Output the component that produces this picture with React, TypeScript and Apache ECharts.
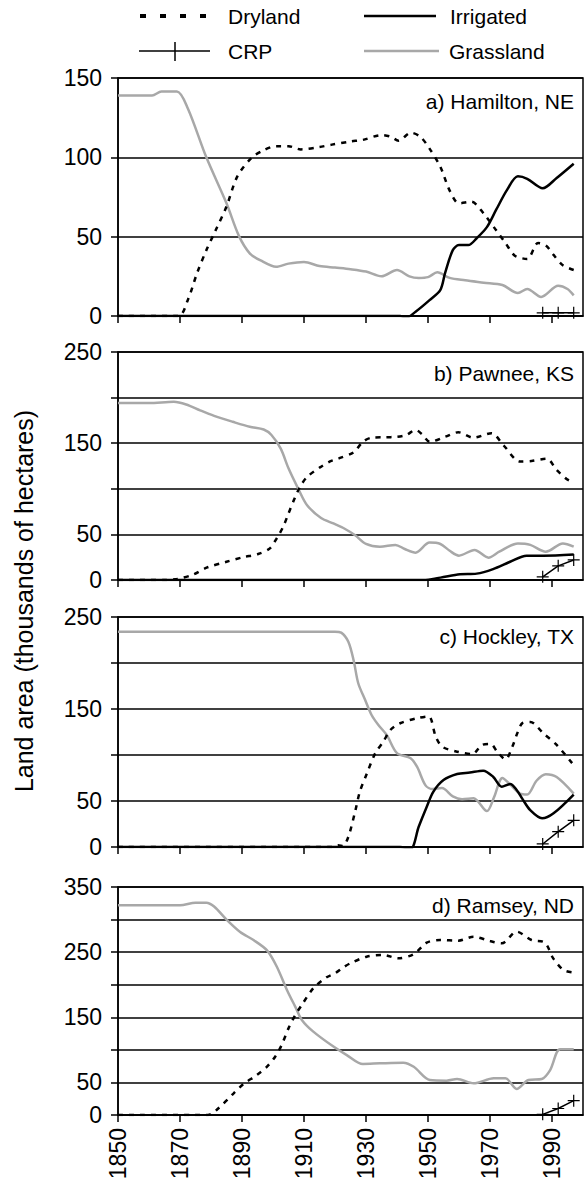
import React, { useEffect, useRef } from "react";
import * as echarts from "echarts";

// ---------- DATA ----------
const BASE_YEAR = 1850;
const xTickYears = [1850, 1870, 1890, 1910, 1930, 1950, 1970, 1990];
const legendNames = ["Dryland", "Irrigated", "CRP", "Grassland"];
const yAxisTitle = "Land area (thousands of hectares)";
const panelTitles = ["a) Hamilton, NE", "b) Pawnee, KS", "c) Hockley, TX", "d) Ramsey, ND"];
const panelMax = [150, 250, 250, 350];
const yLabelsA = [0, 50, 100, 150];
const yLabelsB = [0, 50, 150, 250];
const yLabelsC = [0, 50, 150, 250];
const yLabelsD = [0, 50, 150, 250, 350];

// a) Hamilton, NE
const hamiltonGrassland: [number, number][] = [
  [1850, 139], [1861, 139], [1864, 141.5], [1869, 141.5], [1872.5, 131], [1878.5, 100], [1885, 71],
  [1889, 50.5], [1892.5, 39.5], [1896, 35], [1901, 31], [1905, 33], [1910, 34], [1915, 31.5],
  [1920, 30.5], [1925, 29.5], [1930, 28], [1935, 25], [1940, 29], [1944, 25], [1947, 24], [1950, 24.5],
  [1953, 27.5], [1957, 24], [1962, 22.5], [1968, 21], [1974, 19.5], [1979, 14.5], [1982, 17],
  [1986.5, 12], [1992, 19], [1995, 17], [1997, 13],
];
const hamiltonDryland: [number, number][] = [
  [1850, 0], [1869.5, 0], [1872.5, 10], [1875.5, 27], [1878.5, 41.5], [1881.5, 54], [1885, 69],
  [1888.5, 88], [1893, 99.5], [1897, 104.5], [1901, 107], [1905, 107], [1909, 105], [1915, 106.5],
  [1919, 108], [1925, 110], [1929, 111], [1935, 114], [1938, 113], [1940.5, 110.5], [1944.5, 115.5],
  [1947.5, 113], [1950.5, 105.5], [1954, 94], [1957, 79], [1960, 71], [1964, 72], [1968, 64.5],
  [1972, 54], [1975, 46], [1978, 38], [1982, 36], [1985.5, 46], [1988, 44.5], [1990.5, 38.5],
  [1993.5, 32], [1997, 29],
];
const hamiltonIrrigated: [number, number][] = [
  [1850, 0], [1941, 0], [1943, -1], [1946, 2.7], [1950.5, 10], [1954, 16.5], [1955.5, 27], [1958, 41.5],
  [1960, 44.7], [1963, 44.7], [1965.7, 49], [1969, 56], [1972, 67], [1975.5, 79.5], [1979, 88],
  [1982, 86.5], [1987, 80.5], [1991.5, 87], [1997, 96],
];
const hamiltonCRP: [number, number][] = [[1987, 2], [1992, 2], [1997, 2]];

// b) Pawnee, KS
const pawneeGrassland: [number, number][] = [
  [1850, 194], [1860, 194], [1868, 195.5], [1872, 192.5], [1876.5, 186], [1881, 180], [1887, 173.5],
  [1892.5, 168], [1897, 165], [1899.5, 159], [1902.5, 144], [1905, 122.5], [1908.3, 99], [1911, 82],
  [1915.5, 68], [1919.5, 62], [1922.7, 57], [1926.5, 49], [1930, 39.5], [1934.5, 36.5], [1939.5, 38.5],
  [1942.5, 34], [1946, 30], [1950.5, 41], [1954, 39.5], [1957, 32], [1960, 26.7], [1965, 33],
  [1969.5, 24.5], [1973, 31], [1979, 40], [1983, 38.5], [1988, 31], [1993.5, 40], [1997, 36.5],
];
const pawneeDryland: [number, number][] = [
  [1850, 0], [1865, 0], [1869, 1], [1874.3, 6], [1878.6, 13.5], [1885, 20], [1890.4, 25], [1895.2, 28.5],
  [1899, 34.7], [1901.2, 45.7], [1903.3, 58.5], [1905, 73], [1907, 89.6], [1908.7, 102], [1911, 113],
  [1915.4, 124], [1918.4, 130], [1921, 133], [1926, 140], [1929, 151.5], [1931.8, 156], [1936, 156.5],
  [1940, 157], [1943, 159], [1946, 164.5], [1948, 160], [1950.6, 151.5], [1955.5, 157], [1959.8, 162],
  [1964.6, 156], [1970.5, 161], [1974.3, 148], [1979.7, 130], [1983.4, 130.5], [1988.3, 133],
  [1991.5, 120.6], [1994.7, 110.7], [1997, 107],
];
const pawneeIrrigated: [number, number][] = [
  [1850, 0], [1948.5, 0], [1954, 2.6], [1960.3, 6.2], [1965.7, 7], [1971, 12], [1976.5, 20],
  [1981.8, 26.7], [1987.2, 26.7], [1997, 28],
];
const pawneeCRP: [number, number][] = [[1987, 3.5], [1992, 15.5], [1997, 22]];

// c) Hockley, TX
const hockleyGrassland: [number, number][] = [
  [1850, 234], [1920, 234], [1922, 233], [1924.3, 223], [1926, 203], [1927.5, 178], [1929.7, 160],
  [1931.8, 143.5], [1934, 132.6], [1936.7, 121.7], [1940, 102], [1944.4, 96.4], [1946.5, 87],
  [1949.2, 67], [1951.5, 63], [1954.5, 64], [1958, 55], [1961, 52], [1964.7, 53], [1969, 39],
  [1971.3, 54], [1974, 75], [1976.5, 68], [1979.7, 58], [1982, 57], [1985, 72], [1988, 79],
  [1991.5, 76], [1997, 58],
];
const hockleyDryland: [number, number][] = [
  [1850, 0], [1919, 0], [1921, 2], [1922.5, 1], [1924.3, 11], [1926.6, 40], [1928, 60], [1930.3, 80],
  [1933, 102], [1935.6, 114.5], [1937.8, 127], [1941, 134.5], [1946.5, 140], [1950.2, 142],
  [1952.5, 120], [1954.6, 109], [1959.4, 103.6], [1964.3, 101], [1967.5, 111], [1970.2, 112],
  [1972.3, 103.6], [1975, 95.3], [1977.2, 109], [1978.8, 123.6], [1980.4, 134.5], [1983, 136],
  [1987.2, 123.6], [1991.5, 111], [1997, 89],
];
const hockleyIrrigated: [number, number][] = [
  [1850, 0], [1941, 0], [1944.4, -2], [1947, 22], [1949.6, 43.8], [1951.7, 60], [1955, 72.8],
  [1959.4, 79.3], [1963.5, 81], [1967.8, 83], [1971, 76.4], [1973.8, 65.5], [1976.5, 68.5],
  [1978.6, 62], [1980.5, 52], [1983, 40], [1986.8, 31.2], [1990.5, 36.6], [1997, 57],
];
const hockleyCRP: [number, number][] = [[1987, 3.3], [1992, 16.7], [1997, 29]];

// d) Ramsey, ND
const ramseyGrassland: [number, number][] = [
  [1850, 322], [1870, 322], [1875, 326], [1878.5, 326], [1881, 320], [1885, 300], [1889.4, 281],
  [1893.7, 268.6], [1898, 253], [1901.2, 228], [1904.5, 192], [1907.2, 166], [1909.3, 146],
  [1913, 128], [1919.5, 105], [1923.8, 92], [1929, 78.3], [1934.5, 79.3], [1942, 80.3], [1945.4, 74],
  [1950.6, 53.7], [1956, 52.7], [1959.4, 55.3], [1964.7, 48.6], [1971.2, 56.3], [1975, 56.3],
  [1978.6, 40], [1982.4, 53.7], [1986.7, 55.3], [1989.4, 69], [1992.6, 100.8], [1997, 100.8],
];
const ramseyDryland: [number, number][] = [
  [1850, 0], [1879, 0], [1881.8, 7.7], [1887.3, 33.3], [1890.5, 47.6], [1894.8, 61.4], [1898, 74],
  [1900.7, 89.5], [1902.8, 107.5], [1905, 133], [1907.2, 153.5], [1909.3, 169], [1913, 194.5],
  [1917.3, 211.4], [1920, 217.5], [1922.7, 226.7], [1925, 233], [1930.2, 243], [1935.6, 245.6],
  [1940.4, 240.5], [1945.4, 247], [1949.6, 264.5], [1953.9, 268.6], [1959.8, 267.6], [1964.7, 273.7],
  [1970, 267], [1973.8, 263.6], [1978.6, 281.4], [1983.4, 268.6], [1987.7, 264.5], [1990.4, 240.5],
  [1993.7, 222.6], [1997, 218.5],
];
const ramseyIrrigated: [number, number][] = [];
const ramseyCRP: [number, number][] = [[1987, 1], [1992, 10], [1997, 22]];

// ---------- STYLE / LAYOUT ----------
const FONT = "Arial, Liberation Sans, Helvetica, sans-serif";
const W = 584;
const H = 1187;
const GRID_LEFT = 118;
const GRID_WIDTH = 465;
const gridTops = [78, 352, 617, 887];
const gridHeights = [238, 228, 230, 228];
const titleYs = [101, 373, 636, 905];
const GRAY = "#a8a8a8";
const PLUS =
  "path://M4.5,0 H5.5 V4.5 H10 V5.5 H5.5 V10 H4.5 V5.5 H0 V4.5 H4.5 Z";

const panelData = [
  { grass: hamiltonGrassland, dry: hamiltonDryland, irr: hamiltonIrrigated, crp: hamiltonCRP, labels: yLabelsA },
  { grass: pawneeGrassland, dry: pawneeDryland, irr: pawneeIrrigated, crp: pawneeCRP, labels: yLabelsB },
  { grass: hockleyGrassland, dry: hockleyDryland, irr: hockleyIrrigated, crp: hockleyCRP, labels: yLabelsC },
  { grass: ramseyGrassland, dry: ramseyDryland, irr: ramseyIrrigated, crp: ramseyCRP, labels: yLabelsD },
];

const toOffset = (d: [number, number][]) => d.map(([y, v]) => [y - BASE_YEAR, v]);
const xTickOffsets = xTickYears.map((y) => y - BASE_YEAR);

function buildOption() {
  const grid: any[] = [];
  const xAxis: any[] = [];
  const yAxis: any[] = [];
  const series: any[] = [];
  const axisLine = { show: true, lineStyle: { color: "#000", width: 1.5 } };

  panelData.forEach((p, i) => {
    grid.push({
      left: GRID_LEFT,
      top: gridTops[i],
      width: GRID_WIDTH,
      height: gridHeights[i],
      show: true,
      borderColor: "#000",
      borderWidth: 1.5,
      backgroundColor: "transparent",
      containLabel: false,
    });
    const last = i === panelData.length - 1;
    xAxis.push({
      gridIndex: i,
      type: "value",
      min: 0,
      max: 150,
      interval: 20,
      axisLine: { ...axisLine, onZero: false },
      axisTick: {
        show: true,
        inside: false,
        length: 7,
        lineStyle: { color: "#000", width: 1.5 },
        customValues: xTickOffsets,
      },
      axisLabel: {
        show: last,
        rotate: 90,
        fontSize: 23,
        fontFamily: FONT,
        color: "#000",
        margin: 13,
        customValues: xTickOffsets,
        formatter: (v: number) => (v >= 150 ? "" : String(BASE_YEAR + v)),
      },
      splitLine: { show: false },
    });
    yAxis.push({
      gridIndex: i,
      type: "value",
      min: 0,
      max: panelMax[i],
      interval: 50,
      axisLine,
      axisTick: { show: true, length: 7, lineStyle: { color: "#000", width: 1.5 } },
      axisLabel: {
        fontSize: 23,
        fontFamily: FONT,
        color: "#000",
        margin: 16,
        formatter: (v: number) => (p.labels.includes(v) ? String(v) : ""),
      },
      splitLine: { show: true, lineStyle: { color: "#000", width: 1.5 } },
    });

    const common = {
      type: "line",
      xAxisIndex: i,
      yAxisIndex: i,
      showSymbol: false,
      symbol: "none",
      smooth: 0.3,
      clip: true,
    };
    series.push({
      ...common,
      name: "Grassland",
      data: toOffset(p.grass),
      lineStyle: { color: GRAY, width: 2.5 },
      z: 2,
    });
    series.push({
      ...common,
      name: "Dryland",
      data: toOffset(p.dry),
      lineStyle: { color: "#000", width: 2.5, type: [5, 6] },
      z: 3,
    });
    if (p.irr.length) {
      series.push({
        ...common,
        name: "Irrigated",
        data: toOffset(p.irr),
        lineStyle: { color: "#000", width: 2.5 },
        z: 4,
      });
    }
    series.push({
      type: "line",
      xAxisIndex: i,
      yAxisIndex: i,
      name: "CRP",
      data: toOffset(p.crp),
      smooth: false,
      showSymbol: true,
      symbol: PLUS,
      symbolSize: 12,
      itemStyle: { color: "#000" },
      lineStyle: { color: "#000", width: 1.5 },
      z: 5,
    });
  });

  const txt = (text: string, x: number, y: number, size: number, align = "left", extra: any = {}) => ({
    type: "text",
    x,
    y,
    ...extra,
    style: {
      text,
      fill: "#000",
      font: `${size}px ${FONT}`,
      align,
      verticalAlign: "middle",
    },
  });

  const graphic: any[] = [
    // legend
    { type: "line", shape: { x1: 140, y1: 16, x2: 206, y2: 16 }, style: { stroke: "#000", lineWidth: 4, lineDash: [6, 14] } },
    txt(legendNames[0], 228, 16, 21),
    { type: "line", shape: { x1: 364, y1: 16, x2: 436, y2: 16 }, style: { stroke: "#000", lineWidth: 2.5 } },
    txt(legendNames[1], 450, 16, 21),
    { type: "line", shape: { x1: 139, y1: 51, x2: 210, y2: 51 }, style: { stroke: "#000", lineWidth: 1.5 } },
    { type: "line", shape: { x1: 175, y1: 42, x2: 175, y2: 61 }, style: { stroke: "#000", lineWidth: 1.5 } },
    txt(legendNames[2], 228, 51, 21),
    { type: "line", shape: { x1: 364, y1: 51, x2: 439, y2: 51 }, style: { stroke: GRAY, lineWidth: 2.5 } },
    txt(legendNames[3], 449, 51, 21),
    // y axis title
    txt(yAxisTitle, 24, 601, 25, "center", { rotation: Math.PI / 2 }),
    // panel titles
    ...panelTitles.map((t, i) => txt(t, 574, titleYs[i], 21, "right")),
  ];

  return {
    animation: false,
    backgroundColor: "#fff",
    grid,
    xAxis,
    yAxis,
    series,
    graphic,
  };
}

export default function App() {
  const ref = useRef<HTMLDivElement>(null);
  useEffect(() => {
    if (!ref.current) return;
    const chart = echarts.init(ref.current, undefined, { renderer: "svg", width: W, height: H });
    chart.setOption(buildOption() as any);
    return () => chart.dispose();
  }, []);
  return (
    <div
      ref={ref}
      style={{ position: "absolute", left: 0, top: 0, width: W, height: H, background: "#fff" }}
    />
  );
}
